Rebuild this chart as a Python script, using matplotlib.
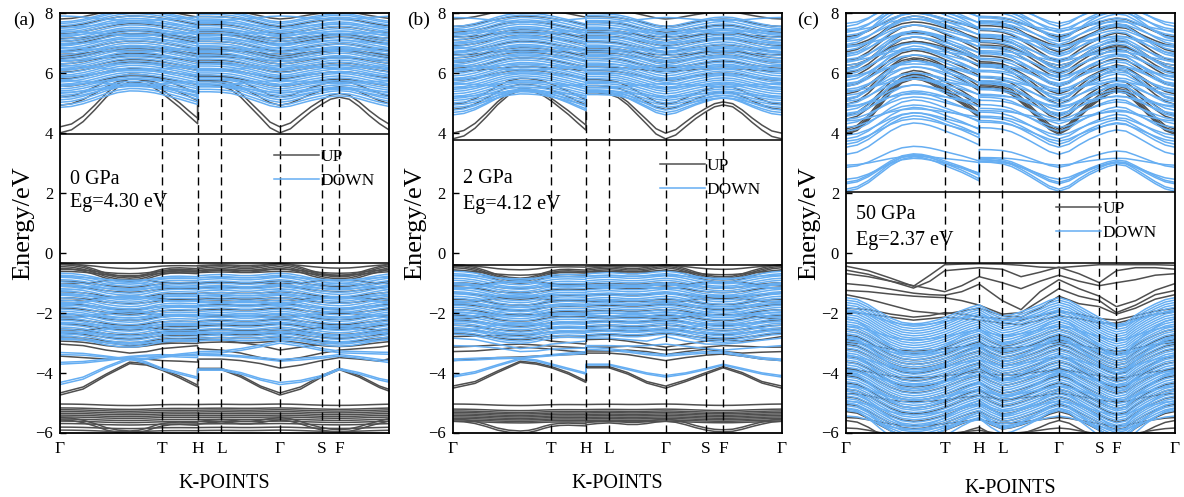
import numpy as np
import matplotlib
matplotlib.use('Agg')
import matplotlib.pyplot as plt

plt.rcParams['font.family'] = ['Liberation Serif', 'DejaVu Serif']

UP_C = '#4f4f4f'
DN_C = '#66aef2'
LW = 1.1

# coarse k samples (fraction of path length) for individually listed bands;
# H is listed twice because the path breaks there
K = [0.000, 0.068, 0.136, 0.205, 0.255, 0.300, 0.352, 0.405,
     0.405, 0.475, 0.532, 0.590, 0.647, 0.708, 0.770, 0.822, 0.880, 0.940, 1.000]
# finer k samples for the dispersion profiles
KF = [0.000, 0.034, 0.068, 0.102, 0.136, 0.170, 0.205, 0.230, 0.255, 0.278, 0.300,
      0.326, 0.352, 0.378, 0.405,
      0.405, 0.440, 0.475, 0.503, 0.532, 0.561, 0.590, 0.618, 0.647, 0.678, 0.708,
      0.739, 0.770, 0.796, 0.822, 0.851, 0.880, 0.910, 0.940, 0.970, 1.000]
KSYM_X = [0.0, 0.300, 0.405, 0.475, 0.647, 0.770, 0.822, 1.0]
KSYM = ['Γ', 'T', 'H', 'L', 'Γ', 'S', 'F', 'Γ']

# dispersion profiles on KF (relative shift per unit amplitude)
cb_prof_ab = [0.00, 0.06, 0.22, 0.45, 0.70, 0.90, 1.00, 0.99, 0.95, 0.88, 0.78,
              0.64, 0.50, 0.34, 0.18,
              0.95, 0.95, 0.92, 0.85, 0.70, 0.50, 0.30, 0.10, 0.00, 0.08, 0.25,
              0.42, 0.56, 0.66, 0.70, 0.66, 0.52, 0.34, 0.18, 0.05, 0.00]
vb_prof_ab = [0.00, -0.05, -0.20, -0.45, -0.75, -0.93, -1.00, -0.95, -0.80, -0.60, -0.45,
              -0.36, -0.34, -0.37, -0.40,
              -0.30, -0.20, -0.15, -0.20, -0.28, -0.28, -0.20, -0.08, 0.00, -0.10, -0.30,
              -0.55, -0.75, -0.86, -0.90, -0.85, -0.68, -0.45, -0.25, -0.08, 0.00]
cb_prof_c = [0.00, 0.07, 0.25, 0.50, 0.75, 0.93, 1.00, 0.98, 0.92, 0.84, 0.75,
             0.65, 0.55, 0.43, 0.30,
             0.85, 0.84, 0.80, 0.72, 0.58, 0.42, 0.25, 0.09, 0.00, 0.10, 0.30,
             0.48, 0.62, 0.72, 0.78, 0.74, 0.58, 0.40, 0.22, 0.07, 0.00]
vb_prof_c = [0.00, -0.06, -0.25, -0.50, -0.72, -0.87, -0.92, -0.90, -0.85, -0.78, -0.70,
             -0.58, -0.45, -0.34, -0.25,
             -0.25, -0.48, -0.65, -0.60, -0.50, -0.38, -0.25, -0.10, 0.00, -0.10, -0.30,
             -0.50, -0.70, -0.85, -0.95, -0.88, -0.62, -0.40, -0.22, -0.07, 0.00]

# ---------------- (a) 0 GPa ----------------
a_edges = [3.97, -0.35]
a_cb_up_lines = []
a_cb_up_lev = [[4.20], [4.00], [5.18], [4.92],
               [5.55, 5.80, 6.02, 6.10, 6.30, 6.48, 6.55, 6.72, 6.95, 7.05, 7.30, 7.55, 7.80],
               [6.40, 6.62, 7.15]]
a_cb_up_amp = [1.60, 1.70, 0.78, 0.88, 0.35, 0.15]
a_cb_dn_lines = []
a_cb_dn_lev = [[4.85, 4.93, 5.02, 5.10],
               [5.18, 5.25, 5.32, 5.40, 5.47, 5.55, 5.62, 5.70, 5.77, 5.85, 5.92, 6.00, 6.08, 6.15,
                6.22, 6.30, 6.38, 6.45, 6.52, 6.60, 6.68, 6.75, 6.82, 6.90, 6.98, 7.05, 7.12, 7.20,
                7.28, 7.35, 7.42, 7.50, 7.58, 7.65, 7.70],
               [5.35, 5.60, 5.88, 6.12, 6.40, 6.70, 6.95, 7.25, 7.50],
               [5.75, 6.25, 6.85, 7.40, 7.90]]
a_cb_dn_amp = [0.55, 0.40, 0.20, -0.15]

a_vb_up_lines = [
    [-4.75, -4.55, -4.10, -3.70, -3.75, -3.92, -4.18, -4.48, -3.90, -3.90, -4.15, -4.50, -4.75, -4.55, -4.15, -3.90, -4.15, -4.50, -4.75],
    [-4.68, -4.48, -4.05, -3.65, -3.70, -3.88, -4.12, -4.42, -3.86, -3.86, -4.10, -4.45, -4.68, -4.48, -4.10, -3.86, -4.10, -4.45, -4.68],
    [-3.45, -3.50, -3.55, -3.52, -3.55, -3.60, -3.62, -3.65, -3.55, -3.55, -3.60, -3.70, -3.85, -3.75, -3.60, -3.50, -3.55, -3.62, -3.45],
    [-3.05, -3.10, -3.25, -3.35, -3.30, -3.20, -3.15, -3.10, -3.20, -3.25, -3.35, -3.50, -3.60, -3.50, -3.35, -3.25, -3.20, -3.15, -3.05],
    [-2.85, -2.90, -3.00, -3.10, -3.05, -3.00, -2.95, -2.95, -2.90, -2.92, -3.00, -3.10, -3.25, -3.15, -3.05, -3.00, -2.95, -2.90, -2.85],
]
a_vb_up_lev = [[-0.35, -0.40, -0.46, -0.52],
               [-0.38, -0.55, -0.62],
               [-0.95, -1.12, -1.30, -1.50, -1.70, -1.85, -2.05, -2.22, -2.38, -2.55, -2.68, -2.80, -2.95],
               [-1.05, -1.60, -2.15, -2.62],
               [-5.05, -5.18, -5.24, -5.30, -5.36, -5.42, -5.48, -5.55, -5.62, -5.70, -5.82, -5.92],
               [-5.50, -5.58]]
a_vb_up_amp = [0.45, 0.15, 0.20, -0.15, 0.05, 0.45]
a_vb_dn_lines = [
    [-4.40, -4.22, -3.85, -3.55, -3.70, -3.90, -4.05, -4.20, -3.92, -3.92, -4.05, -4.25, -4.40, -4.32, -4.15, -3.90, -4.05, -4.25, -4.40],
    [-4.33, -4.15, -3.80, -3.50, -3.65, -3.85, -4.00, -4.15, -3.88, -3.88, -4.00, -4.20, -4.33, -4.26, -4.10, -3.86, -4.00, -4.20, -4.33],
    [-3.72, -3.68, -3.60, -3.50, -3.45, -3.45, -3.48, -3.50, -3.42, -3.44, -3.48, -3.55, -3.62, -3.58, -3.52, -3.45, -3.52, -3.62, -3.72],
    [-3.66, -3.63, -3.55, -3.46, -3.42, -3.40, -3.42, -3.44, -3.38, -3.40, -3.44, -3.50, -3.56, -3.52, -3.47, -3.40, -3.47, -3.56, -3.66],
    [-3.33, -3.36, -3.45, -3.55, -3.52, -3.45, -3.38, -3.32, -3.30, -3.28, -3.20, -3.08, -2.95, -3.05, -3.20, -3.28, -3.30, -3.32, -3.33],
    [-3.40, -3.42, -3.48, -3.58, -3.56, -3.50, -3.42, -3.38, -3.36, -3.34, -3.26, -3.14, -3.02, -3.12, -3.26, -3.34, -3.36, -3.38, -3.40],
]
a_vb_dn_lev = [[-0.68, -0.75, -0.82, -0.90, -0.97, -1.05, -1.12, -1.20, -1.28, -1.35, -1.42, -1.50,
                -1.58, -1.65, -1.72, -1.80, -1.88, -1.95, -2.02, -2.10, -2.18, -2.25, -2.32, -2.40,
                -2.48, -2.55, -2.62, -2.70, -2.78, -2.85],
               [-0.80, -1.10, -1.40, -1.75, -2.05, -2.35, -2.65, -2.90],
               [-1.25, -1.70, -2.20, -2.75]]
a_vb_dn_amp = [0.30, 0.12, -0.25]

# ---------------- (b) 2 GPa ----------------
b_edges = [3.76, -0.40]
b_cb_up_lines = []
b_cb_up_lev = [[3.99], [3.80], [4.95], [4.78],
               [5.75, 6.15, 6.35, 6.50, 6.70, 6.90, 7.10, 7.35, 7.55, 7.80],
               [6.05, 6.60, 7.20]]
b_cb_up_amp = [1.49, 1.62, 0.87, 0.84, 0.35, 0.15]
b_cb_dn_lines = []
b_cb_dn_lev = [[4.60],
               [4.68, 4.76],
               [4.85, 4.93, 5.00, 5.08, 5.15, 5.22, 5.30, 5.38, 5.45, 5.52, 5.60, 5.68, 5.75, 5.82,
                5.90, 5.98, 6.05, 6.12, 6.20, 6.28, 6.35, 6.42, 6.50, 6.58, 6.65, 6.72, 6.80, 6.88,
                6.95, 7.02, 7.10, 7.18, 7.25, 7.32, 7.40, 7.48, 7.55],
               [5.20, 5.50, 5.80, 6.10, 6.40, 6.70, 7.00, 7.30],
               [5.65, 6.25, 6.85, 7.45, 7.85]]
b_cb_dn_amp = [0.80, 0.70, 0.45, 0.20, -0.15]

b_vb_up_lines = [
    [-4.45, -4.30, -3.95, -3.62, -3.68, -3.80, -4.00, -4.28, -3.80, -3.80, -4.00, -4.30, -4.45, -4.25, -4.00, -3.80, -4.00, -4.30, -4.45],
    [-4.52, -4.36, -4.00, -3.66, -3.72, -3.84, -4.05, -4.33, -3.84, -3.84, -4.05, -4.35, -4.52, -4.30, -4.05, -3.84, -4.05, -4.35, -4.52],
    [-3.60, -3.55, -3.50, -3.48, -3.45, -3.42, -3.40, -3.38, -3.35, -3.35, -3.40, -3.50, -3.60, -3.50, -3.42, -3.38, -3.45, -3.55, -3.60],
    [-3.30, -3.28, -3.22, -3.15, -3.18, -3.22, -3.28, -3.32, -3.28, -3.28, -3.25, -3.30, -3.40, -3.30, -3.22, -3.30, -3.35, -3.32, -3.30],
    [-2.80, -2.78, -2.76, -2.78, -2.85, -2.95, -3.00, -3.05, -2.90, -2.88, -2.95, -3.05, -3.15, -3.05, -2.95, -2.90, -2.95, -2.90, -2.80],
    [-3.15, -3.12, -3.08, -3.05, -3.08, -3.12, -3.15, -3.18, -3.15, -3.15, -3.12, -3.18, -3.25, -3.20, -3.15, -3.10, -3.12, -3.15, -3.15],
]
b_vb_up_lev = [[-0.40, -0.45, -0.50, -0.57],
               [-0.42, -0.60],
               [-1.00, -1.15, -1.35, -1.55, -1.72, -1.90, -2.08, -2.25, -2.42, -2.55, -2.70],
               [-1.10, -1.65, -2.20],
               [-5.05, -5.22, -5.28, -5.33, -5.38, -5.43, -5.48, -5.53, -5.58, -5.63],
               [-5.55, -5.62]]
b_vb_up_amp = [0.45, 0.15, 0.20, -0.15, 0.05, 0.40]
b_vb_dn_lines = [
    [-4.15, -4.02, -3.78, -3.56, -3.62, -3.75, -3.90, -4.05, -3.75, -3.75, -3.90, -4.05, -4.15, -4.05, -3.90, -3.75, -3.90, -4.05, -4.15],
    [-4.10, -3.97, -3.74, -3.52, -3.58, -3.71, -3.86, -4.01, -3.72, -3.72, -3.86, -4.01, -4.10, -4.01, -3.86, -3.72, -3.86, -4.01, -4.10],
    [-3.55, -3.52, -3.50, -3.50, -3.45, -3.40, -3.35, -3.30, -3.15, -3.20, -3.28, -3.35, -3.40, -3.35, -3.30, -3.30, -3.40, -3.50, -3.55],
    [-3.60, -3.58, -3.54, -3.52, -3.48, -3.44, -3.40, -3.36, -3.22, -3.26, -3.32, -3.40, -3.45, -3.40, -3.35, -3.35, -3.45, -3.55, -3.60],
    [-2.85, -2.90, -3.05, -3.20, -3.15, -3.05, -3.00, -2.95, -2.85, -2.85, -2.90, -2.95, -2.80, -2.95, -3.05, -3.05, -3.00, -2.92, -2.85],
    [-3.10, -3.12, -3.18, -3.30, -3.28, -3.22, -3.20, -3.18, -3.10, -3.10, -3.12, -3.10, -3.05, -3.12, -3.20, -3.25, -3.20, -3.15, -3.10],
]
b_vb_dn_lev = [[-0.62, -0.70, -0.77, -0.85, -0.92, -1.00, -1.07, -1.15, -1.22, -1.30, -1.37, -1.45,
                -1.52, -1.60, -1.67, -1.75, -1.82, -1.90, -1.97, -2.05, -2.12, -2.20, -2.27, -2.35,
                -2.42, -2.50, -2.57, -2.65, -2.72],
               [-0.75, -1.05, -1.35, -1.70, -2.00, -2.30, -2.60],
               [-1.20, -1.65, -2.15, -2.60]]
b_vb_dn_amp = [0.30, 0.12, -0.25]

# ---------------- (c) 50 GPa ----------------
c_edges = [2.02, -0.35]
c_cb_up_lines = []
c_cb_up_lev = [[3.95, 4.00, 4.05, 4.12],
               [4.45, 4.58, 4.95, 5.10],
               [5.30, 5.55, 5.85, 6.00, 6.15, 6.40, 6.70],
               [6.25, 6.90, 7.20]]
c_cb_up_amp = [1.85, 1.50, 1.20, 0.80]
c_cb_dn_lines = []
c_cb_dn_lev = [[2.05, 2.12],
               [2.30, 2.35],
               [2.45, 2.85],
               [2.92],
               [3.28, 3.52, 3.62, 3.80, 4.05, 4.30, 4.55, 4.75, 4.95, 5.15, 5.35, 5.55, 5.75, 5.95,
                6.15, 6.35, 6.55, 6.75, 6.95, 7.15, 7.35, 7.55],
               [3.72, 3.92, 4.18, 4.45, 4.65, 4.85, 5.05, 5.25, 5.45, 5.65, 5.85, 6.05, 6.25, 6.45,
                6.65, 6.85, 7.05, 7.25, 7.45, 7.65],
               [4.40, 4.90, 5.40, 5.90, 6.40, 6.90, 7.40],
               [4.60, 5.10, 5.60, 6.10, 6.60, 7.10]]
c_cb_dn_amp = [1.15, 0.95, 0.70, 0.30, 1.05, 0.75, 0.40, 1.30]

c_vb_up_lines = [
    [-0.45, -0.60, -0.85, -1.12, -0.75, -0.40, -0.38, -0.37, -0.37, -0.38, -0.42, -0.48, -0.50, -0.45, -0.40, -0.40, -0.40, -0.40, -0.42],
    [-0.58, -0.72, -0.95, -1.18, -0.95, -0.60, -0.55, -0.50, -0.50, -0.55, -0.80, -0.65, -0.48, -0.70, -1.00, -0.60, -0.50, -0.50, -0.55],
    [-0.70, -0.80, -0.95, -1.10, -1.20, -1.30, -1.10, -0.80, -0.80, -1.00, -1.20, -0.95, -0.75, -0.95, -1.10, -1.00, -0.90, -0.75, -0.70],
    [-1.03, -1.10, -1.22, -1.35, -1.40, -1.42, -1.30, -1.05, -1.05, -1.60, -1.90, -1.30, -0.90, -1.20, -1.45, -1.80, -1.60, -1.25, -1.03],
    [-1.26, -1.30, -1.38, -1.45, -1.48, -1.50, -1.60, -1.75, -1.75, -2.05, -2.00, -1.60, -1.20, -1.45, -1.60, -2.00, -1.75, -1.40, -1.26],
    [-1.40, -1.55, -1.75, -1.95, -2.00, -2.05, -1.95, -1.85, -1.85, -2.10, -2.15, -1.85, -1.45, -1.70, -1.80, -2.05, -1.85, -1.55, -1.40],
    [-1.85, -1.90, -2.05, -2.15, -2.10, -2.00, -2.05, -2.15, -2.15, -2.20, -2.25, -2.10, -1.95, -2.05, -2.20, -2.25, -2.10, -1.95, -1.85],
    [-1.98, -2.05, -2.15, -2.25, -2.20, -2.15, -2.20, -2.25, -2.25, -2.35, -2.40, -2.25, -2.10, -2.20, -2.35, -2.35, -2.20, -2.05, -1.98],
]
c_vb_up_lev = [[-2.55, -2.75, -2.90, -3.05, -3.20, -3.45, -3.65, -3.85, -4.10, -4.35, -4.55, -4.80,
                -5.05, -5.30, -5.60],
               [-3.00, -3.90, -4.70, -5.50],
               [-5.85]]
c_vb_up_amp = [0.90, 0.30, 0.30]
c_vb_dn_lines = []
c_vb_dn_lev = [[-1.50, -1.58, -1.66, -1.74, -1.82, -1.90, -1.98, -2.06, -2.14, -2.22, -2.30, -2.38,
                -2.46, -2.54, -2.62, -2.70, -2.78, -2.86, -2.94, -3.02, -3.10, -3.18, -3.26, -3.34,
                -3.42, -3.50, -3.58, -3.66, -3.74, -3.82, -3.90, -3.98, -4.06, -4.14, -4.22, -4.30,
                -4.38, -4.46, -4.54, -4.62, -4.70, -4.78, -4.86, -4.94, -5.02, -5.10, -5.18, -5.26],
               [-1.95, -2.45, -2.95, -3.45, -3.95, -4.45, -4.95, -5.45],
               [-2.20, -2.80, -3.40, -4.00, -4.60, -5.00, -5.20]]
c_vb_dn_amp = [0.95, 0.50, 1.30]

panels = [
    dict(tag='(a)', p='0 GPa', eg='Eg=4.30 eV', xmax=0.968, edges=a_edges,
         cbp=cb_prof_ab, vbp=vb_prof_ab,
         up=[(a_cb_up_lines, a_cb_up_lev, a_cb_up_amp, 'c'), (a_vb_up_lines, a_vb_up_lev, a_vb_up_amp, 'v')],
         dn=[(a_cb_dn_lines, a_cb_dn_lev, a_cb_dn_amp, 'c'), (a_vb_dn_lines, a_vb_dn_lev, a_vb_dn_amp, 'v')],
         txt_y=(2.43, 1.66), leg=(0.649, 0.675), xlpad=12),
    dict(tag='(b)', p='2 GPa', eg='Eg=4.12 eV', xmax=1.0, edges=b_edges,
         cbp=cb_prof_ab, vbp=vb_prof_ab,
         up=[(b_cb_up_lines, b_cb_up_lev, b_cb_up_amp, 'c'), (b_vb_up_lines, b_vb_up_lev, b_vb_up_amp, 'v')],
         dn=[(b_cb_dn_lines, b_cb_dn_lev, b_cb_dn_amp, 'c'), (b_vb_dn_lines, b_vb_dn_lev, b_vb_dn_amp, 'v')],
         txt_y=(2.47, 1.62), leg=(0.630, 0.655), xlpad=12),
    dict(tag='(c)', p='50 GPa', eg='Eg=2.37 eV', xmax=1.0, edges=c_edges,
         cbp=cb_prof_c, vbp=vb_prof_c,
         up=[(c_cb_up_lines, c_cb_up_lev, c_cb_up_amp, 'c'), (c_vb_up_lines, c_vb_up_lev, c_vb_up_amp, 'v')],
         dn=[(c_cb_dn_lines, c_cb_dn_lev, c_cb_dn_amp, 'c'), (c_vb_dn_lines, c_vb_dn_lev, c_vb_dn_amp, 'v')],
         txt_y=(1.28, 0.42), leg=(0.638, 0.553), xlpad=16),
]

fig = plt.figure(figsize=(11.84, 4.97), dpi=100)
lefts = [60 / 1184, 452.7 / 1184, 846 / 1184]
width = 329 / 1184
bottom, height = 1 - 432.5 / 497, 419.5 / 497
tag_x = [13 / 1184, 407 / 1184, 797 / 1184]


def draw_set(ax, sets, color, cbp, vbp):
    handle = None
    for lines, levs, amps, kind in sets:
        prof = np.asarray(cbp if kind == 'c' else vbp)
        for e in lines:
            h, = ax.plot(K, e, color=color, lw=LW, zorder=1)
            handle = handle or h
        for group, amp in zip(levs, amps):
            for lev in group:
                h, = ax.plot(KF, lev + amp * prof, color=color, lw=LW, zorder=1)
                handle = handle or h
    return handle


for i, pn in enumerate(panels):
    ax = fig.add_axes([lefts[i], bottom, width, height])
    h_up = draw_set(ax, pn['up'], UP_C, pn['cbp'], pn['vbp'])
    h_dn = draw_set(ax, pn['dn'], DN_C, pn['cbp'], pn['vbp'])

    for x in KSYM_X[1:-1]:
        ax.axvline(x, color='black', lw=1.0, ls=(0, (5.8, 3.6)), zorder=3)
    for y in pn['edges']:
        ax.axhline(y, color='black', lw=1.1, zorder=3)

    ax.set_xticks(KSYM_X)
    ax.set_xticklabels(KSYM)
    ax.set_yticks(range(-6, 9, 2))
    ax.set_xlim(0, pn['xmax'])
    ax.set_ylim(-6, 8)
    ax.tick_params(axis='x', length=0, labelsize=12.5, pad=6)
    ax.tick_params(axis='y', direction='in', length=4, width=1, labelsize=12, pad=5)
    for sp in ax.spines.values():
        sp.set_linewidth(1.3)
    ax.set_xlabel('K-POINTS', fontsize=14.5, labelpad=pn['xlpad'])
    ax.set_ylabel('Energy/eV', fontsize=19, labelpad=1)

    tr = ax.get_yaxis_transform()
    ax.text(0.031, pn['txt_y'][0], pn['p'], transform=tr, fontsize=14.5, va='center')
    ax.text(0.031, pn['txt_y'][1], pn['eg'], transform=tr, fontsize=14.5, va='center')

    h_up.set_label('UP')
    h_dn.set_label('DOWN')
    ax.legend(handles=[h_up, h_dn], loc='upper left', bbox_to_anchor=pn['leg'],
              frameon=False, fontsize=12.5, handlelength=2.6, handletextpad=0.1,
              labelspacing=0.45, borderpad=0, borderaxespad=0)

    fig.text(tag_x[i], 1 - 20 / 497, pn['tag'], fontsize=14, va='center')

fig.savefig('out.png', dpi=100)
